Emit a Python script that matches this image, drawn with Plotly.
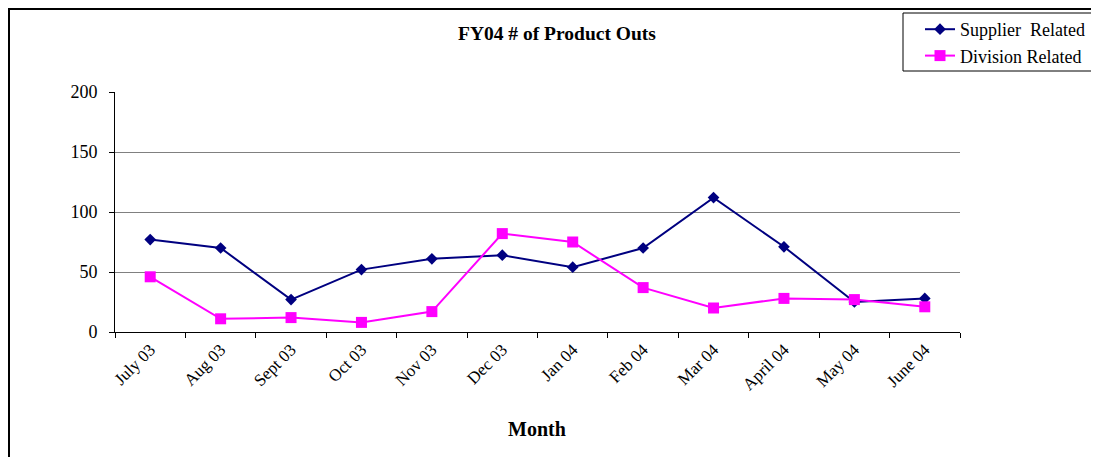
import plotly.graph_objects as go

months = ["July 03", "Aug 03", "Sept 03", "Oct 03", "Nov 03", "Dec 03",
          "Jan 04", "Feb 04", "Mar 04", "April 04", "May 04", "June 04"]
supplier = [77, 70, 27, 52, 61, 64, 54, 70, 112, 71, 25, 28]
division = [46, 11, 12, 8, 17, 82, 75, 37, 20, 28, 27, 21]

FONT = "Liberation Serif"

fig = go.Figure()
fig.add_trace(go.Scatter(
    x=months, y=supplier, mode="lines+markers", name="Supplier\u00a0 Related",
    line=dict(color="#000080", width=2),
    marker=dict(symbol="diamond", size=9, color="#000080"),
))
fig.add_trace(go.Scatter(
    x=months, y=division, mode="lines+markers", name="Division Related",
    line=dict(color="#FF00FF", width=2),
    marker=dict(symbol="square", size=11, color="#FF00FF"),
))

# page body has an 8px default margin -> shift all target coordinates
O = 8
W, H = 1099, 457
L, R, T, B = 115 - O, 960 - O, 92 - O, 332 - O
pw, ph = R - L, B - T

def px(x):
    return (x - O - L) / pw

def py(y):
    return (B - (y - O)) / ph

fig.update_layout(
    width=W, height=H,
    margin=dict(l=L, r=W - R, t=T, b=H - B, pad=0, autoexpand=False),
    paper_bgcolor="white", plot_bgcolor="white",
    font=dict(family=FONT, size=17, color="black"),
    showlegend=True,
    legend=dict(xref="container", yref="container", x=(920 - O) / W, y=1 - (11 - O) / H,
                xanchor="left", yanchor="top", borderwidth=0,
                bgcolor="rgba(0,0,0,0)", font=dict(size=18, family=FONT),
                tracegroupgap=0),
    xaxis=dict(type="category", showline=True, linecolor="black", linewidth=1,
               ticks="outside", ticklen=5, tickcolor="black", tickson="boundaries",
               tickangle=-45, tickfont=dict(size=17, family=FONT), showgrid=False,
               range=[-0.5, 11.5]),
    yaxis=dict(range=[0, 200], tickvals=[0, 50, 100, 150, 200], showline=True,
               linecolor="black", linewidth=1, ticks="outside", ticklen=5,
               tickcolor="black", showgrid=True, gridcolor="#808080", gridwidth=1,
               tickfont=dict(size=18, family=FONT), zeroline=False,
               ticklabelstandoff=8),
    annotations=[
        dict(text="<b>FY04 # of Product Outs</b>", xref="paper", yref="paper",
             x=px(557), y=py(33), xanchor="center", yanchor="middle",
             showarrow=False, font=dict(size=19.5, family=FONT)),
        dict(text="<b>Month</b>", xref="paper", yref="paper",
             x=px(537), y=py(429), xanchor="center", yanchor="middle",
             showarrow=False, font=dict(size=20, family=FONT)),
    ],
    shapes=[
        dict(type="rect", xref="paper", yref="paper",
             x0=px(O + 1), x1=px(1300), y0=py(800), y1=py(O + 1),
             line=dict(color="black", width=2), fillcolor="rgba(0,0,0,0)",
             layer="below"),
        dict(type="rect", xref="paper", yref="paper",
             x0=px(903), x1=px(1092), y0=py(71), y1=py(13),
             line=dict(color="black", width=1), fillcolor="rgba(0,0,0,0)",
             layer="above"),
    ],
)

fig.write_html("out.html")
